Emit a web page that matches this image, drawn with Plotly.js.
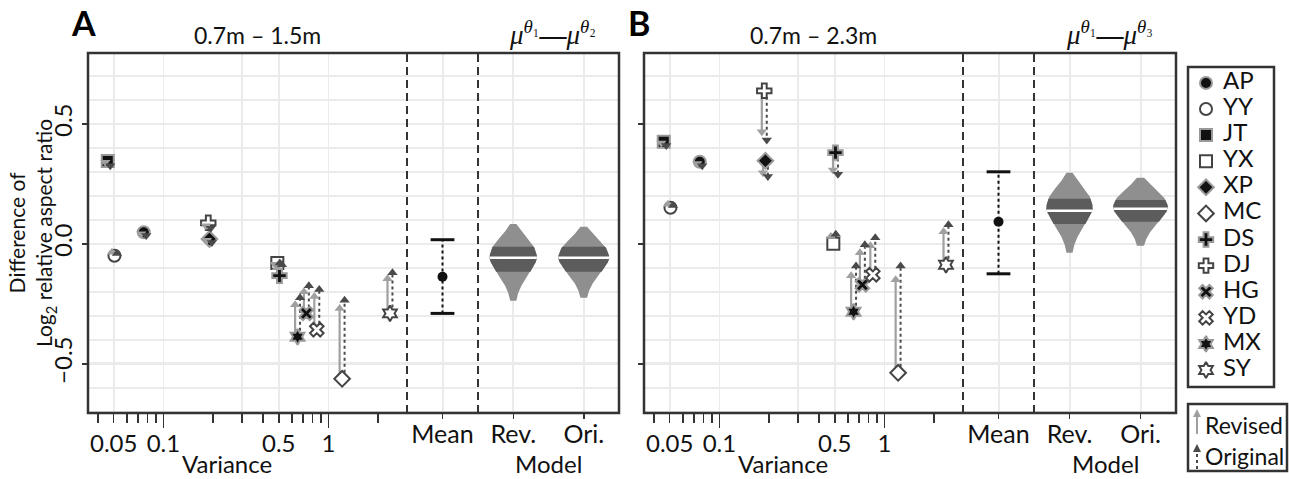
<!DOCTYPE html>
<html><head><meta charset="utf-8">
<script src="https://cdn.plot.ly/plotly-3.0.1.min.js"></script>
<style>html,body{margin:0;padding:0;background:#fff;} #chart{width:1289px;height:479px;}</style>
</head><body><div id="chart"></div>
<script>
// ---------------- data ----------------
const participants = ['AP','YY','JT','YX','XP','MC','DS','DJ','HG','YD','MX','SY'];
const symbols      = ['circle','circle','square','square','diamond','diamond','cross','cross','x','x','hexagram','hexagram'];
const filled       = [true,false,true,false,true,false,true,false,true,false,true,false];
const variance     = [0.076, 0.0505, 0.046, 0.49, 0.19, 1.21, 0.505, 0.187, 0.735, 0.85, 0.65, 2.36];

// Panel A: 0.7m - 1.5m   (marker value, revised-model end, original-model end)
const baseA = [0.048, -0.05, 0.345, -0.08, 0.02, -0.5625, -0.133, 0.0875, -0.29, -0.358, -0.3875, -0.29];
const revA  = [0.042, -0.035, 0.34, -0.085, 0.015, -0.27, -0.10, 0.075, -0.20, -0.22, -0.254, -0.146];
const oriA  = [0.035, -0.04, 0.325, -0.08, 0.005, -0.235, -0.087, 0.065, -0.175, -0.19, -0.225, -0.121];
// Panel B: 0.7m - 2.3m
const baseB = [0.342, 0.15, 0.425, 0.0, 0.346, -0.5375, 0.38, 0.6375, -0.171, -0.129, -0.283, -0.0875];
const revB  = [0.335, 0.165, 0.42, 0.03, 0.296, -0.15, 0.308, 0.467, -0.0375, -0.008, -0.133, 0.05];
const oriB  = [0.325, 0.16, 0.41, 0.04, 0.28, -0.092, 0.29, 0.433, -0.004, 0.025, -0.092, 0.079];

// Mean +/- interval
const meanLabel = ['Mean'];
const meanVal = [-0.1375, 0.092];
const meanLo  = [-0.29, -0.125];
const meanHi  = [0.017, 0.30];

// Model posterior (violins): Rev., Ori.
const modelCats = ['Rev.', 'Ori.'];
const vMinA = [-0.2375, -0.225], vQ1A = [-0.116, -0.116], vMedA = [-0.058, -0.058], vQ3A = [-0.0125, -0.0125], vMaxA = [0.083, 0.071];
const vMinB = [-0.0375, -0.008], vQ1B = [0.083, 0.092], vMedB = [0.1375, 0.146], vQ3B = [0.1875, 0.183], vMaxB = [0.296, 0.275];
// violin outline: relative height (min->max) and relative width
const profileT = [0, 0.1, 0.2, 0.3, 0.4, 0.5, 0.55, 0.6, 0.7, 0.8, 0.9, 1];
const profileW = [0.13, 0.21, 0.35, 0.56, 0.77, 0.95, 1.0, 0.99, 0.88, 0.63, 0.35, 0.13];

// ticks & titles
const xTickVals = [0.05, 0.1, 0.3, 0.5, 1];
const xTickText = ['0.05', '0.1', '', '0.5', '1'];
const xLongTicks = [0.1, 1];
const xMinorTicks = [0.04, 0.06, 0.07, 0.08, 0.09, 0.2, 0.4, 0.6, 0.7, 0.8, 0.9, 2];
const yTickVals = [-0.5, 0, 0.5];
const yTickText = ['\u22120.5', '0.0', '0.5'];
const panelLetters = ['A', 'B'];
const rangeTitles = ['0.7m \u2013 1.5m', '0.7m \u2013 2.3m'];
const thetaIdx = ['\u2082', '\u2083'];

// ---------------- style / geometry ----------------
const W = 1289, H = 479;
const X = p => p / W, Y = p => 1 - p / H;
const TOP = 53, BOT = 413;
const panels = [
  {left: 88, d1: 407, d2: 478, right: 619, xl: 'x', xm: 'x2', xo: 'x3', xt: 'x7', y: 'y', vw: [0.67, 0.72]},
  {left: 644, d1: 963, d2: 1034, right: 1176, xl: 'x4', xm: 'x5', xo: 'x6', xt: 'x8', y: 'y2', vw: [0.65, 0.77]}
];
const FONT = 'Lato, "Open Sans", sans-serif';
const GRID = '#ebebeb';
const DARK = '#333';
const off = 1.035;
const revCol = '#a0a0a0', oriCol = '#4a4a4a';

const traces = [];
const skip = {hoverinfo: 'skip', showlegend: false};

function widthAt(t) {
  for (let k = 0; k < profileT.length - 1; k++) {
    if (t >= profileT[k] && t <= profileT[k + 1]) {
      const f = (t - profileT[k]) / (profileT[k + 1] - profileT[k]);
      return profileW[k] + f * (profileW[k + 1] - profileW[k]);
    }
  }
  return profileW[profileW.length - 1];
}

function addPanel(pi, base, rev, ori, vMin, vQ1, vMed, vQ3, vMax) {
  const P = panels[pi];
  const xa = P.xl, ya = P.y;
  const rx = [], ry = [], ox = [], oy = [];
  variance.forEach((v, i) => {
    rx.push(v / off, v / off, null); ry.push(base[i], rev[i], null);
    ox.push(v * off, v * off, null); oy.push(base[i], ori[i], null);
  });
  traces.push(Object.assign({type: 'scatter', mode: 'lines', x: rx, y: ry, xaxis: xa, yaxis: ya,
    line: {color: revCol, width: 2.2}}, skip));
  traces.push(Object.assign({type: 'scatter', mode: 'lines', x: ox, y: oy, xaxis: xa, yaxis: ya,
    line: {color: oriCol, width: 2, dash: 'dot'}}, skip));
  traces.push(Object.assign({type: 'scatter', mode: 'markers', x: variance, y: base, xaxis: xa, yaxis: ya,
    marker: {symbol: symbols, size: 12,
      color: filled.map(f => f ? '#111' : '#fff'),
      line: {color: filled.map(f => f ? '#999' : '#444'), width: 2}}}, skip));
  traces.push(Object.assign({type: 'scatter', mode: 'markers', x: variance.map(v => v / off), y: rev, xaxis: xa, yaxis: ya,
    marker: {symbol: rev.map((r, i) => r >= base[i] ? 'triangle-up' : 'triangle-down'), size: 9, color: revCol, line: {width: 0}}}, skip));
  traces.push(Object.assign({type: 'scatter', mode: 'markers', x: variance.map(v => v * off), y: ori, xaxis: xa, yaxis: ya,
    marker: {symbol: ori.map((r, i) => r >= base[i] ? 'triangle-up' : 'triangle-down'), size: 9, color: oriCol, line: {width: 0}}}, skip));
  traces.push(Object.assign({type: 'scatter', mode: 'markers', x: [0.1], y: [0], xaxis: P.xt, yaxis: ya,
    marker: {opacity: 0, size: 1}}, skip));

  traces.push(Object.assign({type: 'scatter', mode: 'lines', x: [0, 0], y: [meanLo[pi], meanHi[pi]], xaxis: P.xm, yaxis: ya,
    line: {color: '#111', width: 2, dash: 'dot'}}, skip));
  traces.push(Object.assign({type: 'scatter', mode: 'markers', x: [0, 0], y: [meanLo[pi], meanHi[pi]], xaxis: P.xm, yaxis: ya,
    marker: {symbol: 'line-ew', size: 17, line: {width: 3, color: '#111'}}}, skip));
  traces.push(Object.assign({type: 'scatter', mode: 'markers', x: [0], y: [meanVal[pi]], xaxis: P.xm, yaxis: ya,
    marker: {symbol: 'circle', size: 10, color: '#111'}}, skip));

  modelCats.forEach((c, k) => {
    const hw = P.vw[k] / 2, mn = vMin[k], mx = vMax[k];
    const ys = profileT.map(t => mn + t * (mx - mn));
    const xr = profileW.map(w => k + hw * w), xl = profileW.map(w => k - hw * w);
    traces.push(Object.assign({type: 'scatter', mode: 'lines', fill: 'toself', fillcolor: '#8f8f8f',
      x: xr.concat(xl.slice().reverse()), y: ys.concat(ys.slice().reverse()), xaxis: P.xo, yaxis: ya,
      line: {width: 0, color: '#8f8f8f'}}, skip));
    const by = [vQ1[k]].concat(ys.filter(y => y > vQ1[k] && y < vQ3[k])).concat([vQ3[k]]);
    const bw = by.map(y => widthAt((y - mn) / (mx - mn)));
    const bxr = bw.map(w => k + hw * w), bxl = bw.map(w => k - hw * w);
    traces.push(Object.assign({type: 'scatter', mode: 'lines', fill: 'toself', fillcolor: '#5c5c5c',
      x: bxr.concat(bxl.slice().reverse()), y: by.concat(by.slice().reverse()), xaxis: P.xo, yaxis: ya,
      line: {width: 0, color: '#5c5c5c'}}, skip));
    const mw = widthAt((vMed[k] - mn) / (mx - mn));
    traces.push(Object.assign({type: 'scatter', mode: 'lines', x: [k - hw * mw, k + hw * mw], y: [vMed[k], vMed[k]],
      xaxis: P.xo, yaxis: ya, line: {color: '#fff', width: 2.5}}, skip));
  });
}
addPanel(0, baseA, revA, oriA, vMinA, vQ1A, vMedA, vQ3A, vMaxA);
addPanel(1, baseB, revB, oriB, vMinB, vQ1B, vMedB, vQ3B, vMaxB);

const legIdx = participants.map((p, i) => i);
traces.push(Object.assign({type: 'scatter', mode: 'markers', x: participants.map(() => 18), y: legIdx, xaxis: 'x9', yaxis: 'y3',
  marker: {symbol: symbols, size: 12, color: filled.map(f => f ? '#111' : '#fff'),
    line: {color: filled.map(f => f ? '#999' : '#444'), width: 2}}}, skip));
traces.push(Object.assign({type: 'scatter', mode: 'text', x: participants.map(() => 35), y: legIdx, text: participants,
  textposition: 'middle right', textfont: {size: 24, family: FONT, color: '#111'}, xaxis: 'x9', yaxis: 'y3'}, skip));

// ---------------- axes ----------------
const tickBase = {ticks: 'outside', tickwidth: 1.5, tickcolor: DARK, zeroline: false, showline: false,
  tickfont: {size: 24, family: FONT, color: '#111'}, fixedrange: true};
function logAxis(P, ya) {
  return Object.assign({}, tickBase, {type: 'log', domain: [X(P.left), X(P.d1)], range: [-1.457, 0.476], anchor: ya,
    tickmode: 'array', tickvals: xTickVals, ticktext: xTickText, ticklen: 9, showgrid: true, gridcolor: GRID, gridwidth: 1.6,
    minor: {tickmode: 'array', tickvals: xMinorTicks, ticks: 'outside', ticklen: 9, tickwidth: 1.5, tickcolor: DARK, showgrid: false}});
}
function longTickAxis(xo, ya) {
  return Object.assign({}, tickBase, {type: 'log', overlaying: xo, anchor: ya, range: [-1.457, 0.476],
    tickmode: 'array', tickvals: xLongTicks, ticklen: 14, showticklabels: false, showgrid: false});
}
function meanAxis(P, ya) {
  return Object.assign({}, tickBase, {domain: [X(P.d1), X(P.d2)], range: [-0.5, 0.5], anchor: ya,
    tickmode: 'array', tickvals: [0], ticktext: meanLabel, ticklen: 5, ticklabelstandoff: -6,
    tickfont: {size: 25, family: FONT, color: '#111'}, showgrid: true, gridcolor: GRID, gridwidth: 2});
}
function modelAxis(P, ya) {
  return Object.assign({}, tickBase, {domain: [X(P.d2), X(P.right)], range: [-0.5, 1.5], anchor: ya,
    tickmode: 'array', tickvals: [0, 1], ticktext: modelCats, ticklen: 5, ticklabelstandoff: -6,
    tickfont: {size: 25, family: FONT, color: '#111'}, showgrid: true, gridcolor: GRID, gridwidth: 2});
}
function yAxis(xa, labels) {
  return Object.assign({}, tickBase, {domain: [Y(BOT), Y(TOP)], range: [-0.705, 0.795], anchor: xa,
    tickmode: 'array', tickvals: yTickVals, ticktext: yTickText, tickangle: -90, ticklen: 5, showticklabels: labels,
    showgrid: true, gridcolor: GRID, gridwidth: 2.6,
    minor: {tickmode: 'linear', tick0: 0, dtick: 0.1, showgrid: true, gridcolor: GRID, gridwidth: 1.5, ticks: ''}});
}

// ---------------- shapes & annotations ----------------
const shapes = [], annotations = [];
function ann(text, x, y, size, extra) {
  annotations.push(Object.assign({text, x: X(x), y: Y(y), xref: 'paper', yref: 'paper', showarrow: false,
    xanchor: 'center', yanchor: 'middle', font: {size, family: FONT, color: '#111'}}, extra || {}));
}
panels.forEach((P, pi) => {
  shapes.push({type: 'rect', xref: 'paper', yref: 'paper', x0: X(P.left), x1: X(P.right), y0: Y(BOT), y1: Y(TOP),
    line: {color: DARK, width: 2.5}});
  [P.d1, P.d2].forEach(d => shapes.push({type: 'line', xref: 'paper', yref: 'paper', x0: X(d), x1: X(d), y0: Y(BOT), y1: Y(TOP),
    line: {color: DARK, width: 2, dash: '8px,5px'}}));
  ann('<b>' + panelLetters[pi] + '</b>', P.left - 5, 23, 34, {font: {size: 34, family: FONT, color: '#000'}});
  ann(rangeTitles[pi], (P.left + P.d1) / 2 + 10, 35, 23);
  ann('<i>\u03bc</i><sup><i>\u03b8</i>\u2081</sup><b>\u2014</b><i>\u03bc</i><sup><i>\u03b8</i>' + thetaIdx[pi] + '</sup>',
    (P.d2 + P.right) / 2 + 4, 33, 27, {font: {size: 27, family: '"Liberation Serif", "DejaVu Serif", serif', color: '#111'}});
  ann('Variance', (P.left + P.d1) / 2 - 21, 463, 24);
  ann('Model', (P.d2 + P.right) / 2, 463, 24);
});
ann('Difference of<br>Log<sub>2</sub> relative aspect ratio', 32, 233, 21, {textangle: -90});

shapes.push({type: 'rect', xref: 'paper', yref: 'paper', x0: X(1188), x1: X(1274), y0: Y(387), y1: Y(67), line: {color: DARK, width: 2.5}});
shapes.push({type: 'rect', xref: 'paper', yref: 'paper', x0: X(1188), x1: X(1287), y0: Y(471), y1: Y(404), line: {color: DARK, width: 2.5}});
shapes.push({type: 'line', xref: 'paper', yref: 'paper', x0: X(1197), x1: X(1197), y0: Y(434), y1: Y(414), line: {color: revCol, width: 2}});
shapes.push({type: 'path', xref: 'paper', yref: 'paper', path: `M ${X(1193)} ${Y(417)} L ${X(1201)} ${Y(417)} L ${X(1197)} ${Y(409)} Z`,
  fillcolor: revCol, line: {width: 0}});
shapes.push({type: 'line', xref: 'paper', yref: 'paper', x0: X(1197), x1: X(1197), y0: Y(469), y1: Y(449), line: {color: oriCol, width: 2, dash: 'dot'}});
shapes.push({type: 'path', xref: 'paper', yref: 'paper', path: `M ${X(1193)} ${Y(452)} L ${X(1201)} ${Y(452)} L ${X(1197)} ${Y(444)} Z`,
  fillcolor: oriCol, line: {width: 0}});
ann('Revised', 1203, 425, 23, {xanchor: 'left'});
ann('Original', 1203, 456, 23, {xanchor: 'left'});

const layout = {
  width: W, height: H, margin: {l: 0, r: 0, t: 0, b: 0}, paper_bgcolor: '#fff', plot_bgcolor: '#fff', showlegend: false,
  font: {family: FONT, color: '#111'},
  xaxis: logAxis(panels[0], 'y'), xaxis2: meanAxis(panels[0], 'y'), xaxis3: modelAxis(panels[0], 'y'),
  xaxis4: logAxis(panels[1], 'y2'), xaxis5: meanAxis(panels[1], 'y2'), xaxis6: modelAxis(panels[1], 'y2'),
  xaxis7: longTickAxis('x', 'y'), xaxis8: longTickAxis('x4', 'y2'),
  xaxis9: {domain: [X(1188), X(1274)], range: [0, 86], visible: false, anchor: 'y3', fixedrange: true},
  yaxis: yAxis('x', true), yaxis2: yAxis('x4', false),
  yaxis3: {domain: [Y(387), Y(67)], range: [11.65, -0.61], visible: false, anchor: 'x9', fixedrange: true},
  shapes, annotations
};
Plotly.newPlot('chart', traces, layout, {displayModeBar: false, staticPlot: true});
</script></body></html>
